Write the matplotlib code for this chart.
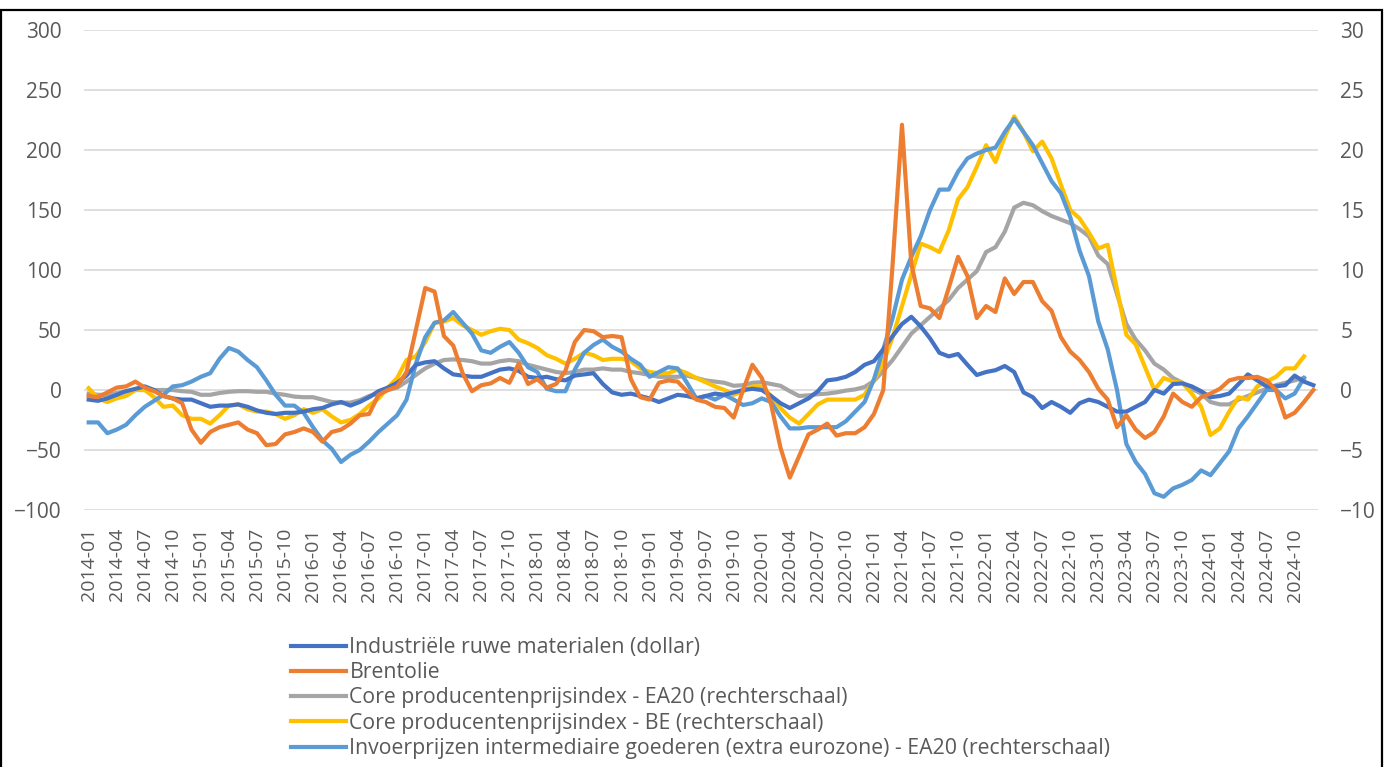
import matplotlib
matplotlib.use("Agg")
import matplotlib.pyplot as plt
from matplotlib.patches import Rectangle

# months 2014-01 .. 2024-12
months = [f"{y}-{m:02d}" for y in range(2014, 2025) for m in range(1, 13)]

# left axis (%)
industrie = [
    -8, -9, -7, -4, -1, 1, 3, 0, -5, -7, -8, -8,
    -11, -14, -13, -13, -12, -14, -17, -19, -20, -19, -19, -18,
    -16, -15, -12, -10, -13, -10, -6, -1, 2, 6, 12, 21,
    23, 24, 18, 13, 12, 11, 11, 14, 17, 18, 16, 11,
    10, 11, 9, 8, 12, 13, 14, 5, -2, -4, -3, -5,
    -7, -10, -7, -4, -5, -7, -5, -3, -4, -2, 0, 1,
    0, -5, -11, -15, -11, -7, -1, 8, 9, 11, 15, 21,
    24, 34, 45, 55, 61, 53, 43, 31, 28, 30, 21, 12.5,
    15, 16.5, 20, 15, -2, -6, -15, -10, -14, -19, -11, -8,
    -10, -14, -18, -18, -14, -10, 0, -3, 5, 5.5, 3, -1,
    -6, -5, -3, 5, 13, 8, 3, 3, 4, 12, 7, 4,
]
brent = [
    -5, -6, -2, 2, 3, 7, 2, -1, -5, -7, -11, -33,
    -44, -35, -31, -29, -27, -33, -36, -46, -45, -37, -35, -32,
    -35, -43, -35, -33, -28, -21, -20, -4, 0, 3, 15, 50,
    85, 82, 45, 37, 14, -1, 4, 5.5, 10, 6, 22, 5,
    9, 2, 5, 16, 40, 50, 49, 44, 45, 44, 9, -6,
    -8, 6, 8, 7, -1, -8, -10, -14, -15, -23, 0, 21,
    10, -12, -48, -73, -55, -37, -33, -28, -38, -36, -36, -31,
    -20, 0, 105, 221, 105, 70, 68, 60, 85, 111, 95, 60,
    70, 65, 93, 80, 90, 90, 74, 66, 44, 32, 25, 15,
    1, -8, -31, -21, -33, -40, -35, -22, -3, -10, -14, -6,
    -3, 1, 8, 10, 10, 11, 8, 0, -23, -19, -10, 0,
]

# right axis (%)
ppi_ea20 = [
    -0.3, -0.4, -0.4, -0.25, -0.1, 0, 0, 0, 0, 0, -0.1, -0.15,
    -0.4, -0.4, -0.25, -0.15, -0.1, -0.1, -0.15, -0.15, -0.3, -0.4, -0.55, -0.6,
    -0.6, -0.8, -1.0, -1.05, -1.05, -0.85, -0.5, -0.3, 0, 0.2, 0.7, 1.25,
    1.8, 2.2, 2.5, 2.55, 2.5, 2.4, 2.2, 2.2, 2.4, 2.5, 2.4, 2.1,
    1.9, 1.7, 1.5, 1.4, 1.5, 1.7, 1.7, 1.8, 1.7, 1.7, 1.5, 1.4,
    1.25, 1.1, 1.1, 1.1, 1.2, 1.0, 0.8, 0.7, 0.6, 0.35, 0.4, 0.6,
    0.65, 0.5, 0.35, -0.1, -0.5, -0.45, -0.35, -0.3, -0.2, -0.05, 0.05, 0.25,
    0.75, 1.6, 2.5, 3.6, 4.7, 5.4, 6.1, 6.8, 7.5, 8.5, 9.2, 9.9,
    11.5, 11.9, 13.2, 15.2, 15.6, 15.4, 14.9, 14.5, 14.2, 13.9, 13.4, 12.8,
    11.2, 10.5, 8.0, 5.5, 4.2, 3.3, 2.2, 1.7, 1.0, 0.6, 0.1, -0.3,
    -1.0, -1.2, -1.2, -0.8, -0.5, -0.2, 0.1, 0.4, 0.6, 0.8, 1.0,
]
ppi_be = [
    0.15, -0.7, -1.0, -0.7, -0.5, 0, 0, -0.6, -1.4, -1.3, -2.1, -2.4,
    -2.4, -2.8, -2.1, -1.3, -1.2, -1.6, -1.8, -1.8, -2.0, -2.4, -2.1, -1.6,
    -1.9, -1.6, -2.2, -2.7, -2.5, -2.0, -1.3, -0.7, 0.2, 1.0, 2.5, 2.8,
    4.0, 5.6, 5.7, 6.0, 5.4, 5.0, 4.6, 4.9, 5.1, 5.0, 4.2, 3.9,
    3.5, 2.9, 2.6, 2.2, 2.6, 3.1, 2.9, 2.5, 2.6, 2.6, 2.4, 1.8,
    1.5, 1.4, 1.4, 1.7, 1.4, 1.0, 0.65, 0.3, 0, -0.4, -0.1, 0.3,
    0.3, -0.5, -1.5, -2.3, -2.8, -2.0, -1.2, -0.8, -0.8, -0.8, -0.8, -0.4,
    0.8, 2.3, 4.4, 7.0, 9.6, 12.2, 11.9, 11.5, 13.3, 15.9, 16.9, 18.6,
    20.4, 19.0, 21.1, 22.8, 21.5, 19.9, 20.7, 19.3, 17.1, 15.0, 14.3, 13.1,
    11.8, 12.1, 8.4, 4.6, 3.8, 1.9, 0, 1.0, 0.7, 0.6, -0.3, -1.4,
    -3.75, -3.2, -1.8, -0.6, -0.8, 0.3, 0.7, 1.1, 1.8, 1.8, 2.8,
]
invoer = [
    -2.7, -2.7, -3.6, -3.3, -2.9, -2.1, -1.4, -0.9, -0.4, 0.3, 0.4, 0.7,
    1.1, 1.4, 2.6, 3.5, 3.2, 2.5, 1.9, 0.8, -0.4, -1.3, -1.3, -1.9,
    -3.1, -4.2, -4.9, -6.0, -5.4, -5.0, -4.3, -3.5, -2.8, -2.1, -0.8, 2.2,
    4.4, 5.6, 5.8, 6.5, 5.6, 4.7, 3.3, 3.1, 3.6, 4.0, 3.1, 1.9,
    1.5, 0.1, -0.1, -0.1, 1.7, 3.1, 3.75, 4.2, 3.6, 3.2, 2.6, 2.1,
    1.1, 1.5, 1.9, 1.8, 0.6, -0.7, -0.5, -0.8, -0.4, -0.8, -1.25, -1.1,
    -0.7, -1.0, -2.2, -3.2, -3.2, -3.1, -3.1, -3.1, -3.1, -2.6, -1.8, -1.0,
    0.9, 3.4, 6.0, 9.2, 11.1, 12.8, 15.0, 16.7, 16.7, 18.2, 19.3, 19.7,
    20.0, 20.2, 21.5, 22.6, 21.5, 20.4, 18.9, 17.4, 16.4, 14.4, 11.6, 9.5,
    5.7, 3.4, 0, -4.5, -6.0, -7.0, -8.6, -8.9, -8.2, -7.9, -7.5, -6.7,
    -7.1, -6.1, -5.1, -3.2, -2.2, -1.1, 0, 0, -0.7, -0.3, 1.0,
]

labels = [
    "Industriële ruwe materialen (dollar)",
    "Brentolie",
    "Core producentenprijsindex - EA20 (rechterschaal)",
    "Core producentenprijsindex - BE (rechterschaal)",
    "Invoerprijzen intermediaire goederen (extra eurozone) - EA20 (rechterschaal)",
]
colors = ["#4472C4", "#ED7D31", "#A5A5A5", "#FFC000", "#5B9BD5"]

txt = "#595959"
plt.rcParams["font.family"] = ["Open Sans", "DejaVu Sans"]

fig = plt.figure(figsize=(13.87, 7.67), dpi=100)
ax = fig.add_axes([84 / 1387, 1 - 510 / 767, (1318 - 84) / 1387, 480 / 767])
ax2 = ax.twinx()

lw = 3.0
x = list(range(len(months)))
h1, = ax2.plot(x[:len(ppi_ea20)], ppi_ea20, color=colors[2], lw=lw, zorder=2)
h2, = ax2.plot(x[:len(ppi_be)], ppi_be, color=colors[3], lw=lw, zorder=3)
h3, = ax2.plot(x[:len(invoer)], invoer, color=colors[4], lw=lw, zorder=4)
ax.set_zorder(ax2.get_zorder() + 1)
ax.patch.set_visible(False)
h4, = ax.plot(x[:len(industrie)], industrie, color=colors[0], lw=lw, zorder=3)
h5, = ax.plot(x[:len(brent)], brent, color=colors[1], lw=lw, zorder=4)

ax.set_ylim(-100, 300)
ax2.set_ylim(-10, 30)
ax.set_yticks(range(-100, 301, 50))
ax2.set_yticks(range(-10, 31, 5))
ax.set_xlim(-0.5, len(months) - 0.5)
ax.set_xticks(x[::3])
ax.set_xticklabels(months[::3], rotation=90)

ax2.grid(axis="y", color="#D9D9D9", lw=1.2)
ax2.set_axisbelow(True)
for a in (ax, ax2):
    for s in a.spines.values():
        s.set_visible(False)
ax.tick_params(axis="y", length=0, pad=16, labelsize=15, labelcolor=txt)
ax.tick_params(axis="x", length=0, pad=13, labelsize=14, labelcolor=txt)
ax2.tick_params(axis="y", length=0, pad=16, labelsize=15, labelcolor=txt)

fig.legend([h4, h5, h1, h2, h3], labels, loc="upper left",
           bbox_to_anchor=(291 / 1387, 1 - 637 / 767), frameon=False,
           prop={"size": 15.3},
           handlelength=2.6, handletextpad=0.15, labelspacing=0.2,
           borderaxespad=0, borderpad=0, labelcolor=txt)

fig.patches.append(Rectangle((0.001, -0.01), 0.9955, 0.997, transform=fig.transFigure,
                             fill=False, edgecolor="black", lw=1.6))

fig.savefig("out.png", dpi=100)
